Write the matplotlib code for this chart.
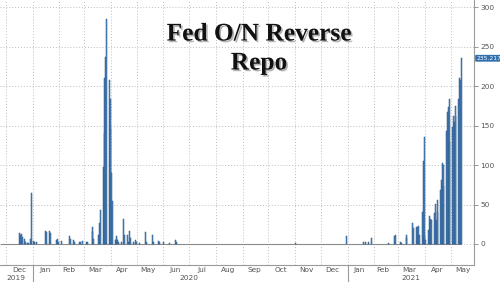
import matplotlib
matplotlib.use("Agg")
import matplotlib.pyplot as plt
import matplotlib.dates as mdates
import matplotlib.patheffects as pe
import pandas as pd

# Fed overnight reverse repo usage, $bn (business days with non-zero usage)
dates_2019_20 = ["2019-12-17", "2019-12-18", "2019-12-19", "2019-12-20", "2019-12-23", "2019-12-24",
                 "2019-12-26", "2019-12-27", "2019-12-30", "2019-12-31", "2020-01-02", "2020-01-03",
                 "2020-01-06", "2020-01-16", "2020-01-17", "2020-01-21", "2020-01-22", "2020-01-29",
                 "2020-01-30", "2020-01-31", "2020-02-03", "2020-02-13", "2020-02-14", "2020-02-18",
                 "2020-02-19", "2020-02-24", "2020-02-26", "2020-02-28", "2020-03-03", "2020-03-05",
                 "2020-03-10", "2020-03-11", "2020-03-12", "2020-03-18", "2020-03-19", "2020-03-20",
                 "2020-03-23", "2020-03-24", "2020-03-25", "2020-03-26", "2020-03-27", "2020-03-30",
                 "2020-03-31", "2020-04-01", "2020-04-02", "2020-04-03", "2020-04-06", "2020-04-07",
                 "2020-04-08", "2020-04-09", "2020-04-10", "2020-04-13", "2020-04-16", "2020-04-17",
                 "2020-04-20", "2020-04-21", "2020-04-22", "2020-04-23", "2020-04-24", "2020-04-27",
                 "2020-04-30", "2020-05-01", "2020-05-04", "2020-05-11", "2020-05-12", "2020-05-19",
                 "2020-05-20", "2020-05-26", "2020-05-27", "2020-06-01", "2020-06-08", "2020-06-15",
                 "2020-06-16", "2020-11-02", "2020-12-31"]
values_2019_20 = [14, 12, 13, 9, 6, 3,
                  1, 1, 6, 65, 4, 3,
                  2, 17, 15, 16, 14, 5,
                  6, 3, 4, 10, 6, 5,
                  3, 2, 3, 4, 3, 2,
                  22, 15, 6, 12, 27, 43,
                  98, 140, 210, 237, 285, 208,
                  183, 145, 90, 54, 5, 6,
                  10, 5, 3, 2, 32, 12,
                  11, 3, 2, 17, 7, 3,
                  5, 3, 1, 15, 2, 11,
                  2, 4, 2, 2, 1, 5,
                  2, 1, 10]

dates_2021 = ["2021-01-19", "2021-01-22", "2021-01-25", "2021-01-29", "2021-02-18", "2021-02-25",
              "2021-02-26", "2021-03-03", "2021-03-05", "2021-03-10", "2021-03-11"]
values_2021 = [2, 3, 2, 8, 1, 10,
               11, 2, 1, 11, 7]

# last run of consecutive business days, Mar 18 2021 -> May 13 2021
run_start, run_end = "2021-03-18", "2021-05-13"
run_values = [27, 20, 22, 21, 23, 10, 12, 40, 105, 136,
              10, 5, 18, 36, 29, 32, 31, 39, 51, 30,
              41, 56, 68, 81, 103, 73, 100, 143, 167, 174,
              184, 129, 148, 162, 154, 162, 175, 183, 210, 208,
              235.217]

months = ["Dec", "Jan", "Feb", "Mar", "Apr", "May", "Jun", "Jul", "Aug", "Sep",
          "Oct", "Nov", "Dec", "Jan", "Feb", "Mar", "Apr", "May"]
month_pos = ["2019-12-16", "2020-01-15", "2020-02-12", "2020-03-14", "2020-04-14", "2020-05-14",
             "2020-06-15", "2020-07-15", "2020-08-15", "2020-09-15", "2020-10-15", "2020-11-14",
             "2020-12-14", "2021-01-14", "2021-02-11", "2021-03-14", "2021-04-15", "2021-05-15"]
years = ["2019", "2020", "2021"]
year_pos = ["2019-12-12", "2020-07-01", "2021-03-16"]

# build the series on business days
days = pd.bdate_range("2019-11-25", run_end)
s = pd.Series(0.0, index=days)
s[pd.to_datetime(dates_2019_20)] = values_2019_20
s[pd.to_datetime(dates_2021)] = values_2021
run_days = pd.bdate_range(run_start, run_end)
s[run_days] = run_values

fig = plt.figure(figsize=(5, 2.82), dpi=100)
ax = fig.add_axes([0, 17 / 282, 474 / 500, 265 / 282])

ax.plot(s.index, [0] * len(s), color="#8a8a8a", lw=0.8, zorder=2)
nz = s[s > 0]
ax.bar(nz.index, nz.values, width=1.15, color="#5b91c6", edgecolor="#27568b",
       linewidth=0.35, zorder=3)

ax.set_xlim(pd.Timestamp("2019-11-24"), pd.Timestamp("2021-05-28"))
ax.set_ylim(-26.6, 309)

# grid
ax.xaxis.set_major_locator(mdates.MonthLocator())
ax.xaxis.set_major_formatter(plt.NullFormatter())
ax.grid(True, which="major", axis="both", color="#bdbdbd", linestyle=(0, (1, 2)), lw=0.7)
ax.tick_params(axis="x", which="both", length=0)

ax.yaxis.tick_right()
ax.set_yticks(range(0, 301, 50))
ax.tick_params(axis="y", length=3, width=0.6, color="#888888", labelsize=5.3,
               labelcolor="#555555", pad=1.5)

for side in ["top", "left"]:
    ax.spines[side].set_visible(False)
for side in ["bottom", "right"]:
    ax.spines[side].set_color("#9a9a9a")
    ax.spines[side].set_linewidth(0.8)

# month labels (centred in each month) and year labels
xt = ax.get_xaxis_transform()
for m, lab in zip(month_pos, months):
    ax.text(pd.Timestamp(m), -0.008, lab, transform=xt, ha="center", va="top",
            fontsize=5.3, color="#555555", clip_on=False)
for y, lab in zip(year_pos, years):
    ax.text(pd.Timestamp(y), -0.036, lab, transform=xt, ha="center", va="top",
            fontsize=5.3, color="#555555", clip_on=False)
for d in ["2020-01-01", "2021-01-01"]:
    ax.plot([pd.Timestamp(d)] * 2, [0, -0.08], transform=xt,
            color="#9a9a9a", lw=0.8, clip_on=False)

# last value tag
ax.annotate("235.217", xy=(1.0, run_values[-1]), xycoords=("axes fraction", "data"),
            xytext=(1.5, 0), textcoords="offset points", ha="left", va="center",
            fontsize=4.3, color="white",
            bbox=dict(boxstyle="round,pad=0.15", fc="#2f6fad", ec="none"))

# title
shadow = [pe.SimplePatchShadow(offset=(1.2, -1.2), shadow_rgbFace="#666666", alpha=0.5), pe.Normal()]
for txt, ypix in [("Fed O/N Reverse", 34), ("Repo", 63)]:
    fig.text(0.518, 1 - ypix / 282, txt, ha="center", va="center",
             fontsize=18.3, fontweight="bold", family="Liberation Serif", color="#111111",
             path_effects=shadow)

fig.savefig("out.png", dpi=100)
